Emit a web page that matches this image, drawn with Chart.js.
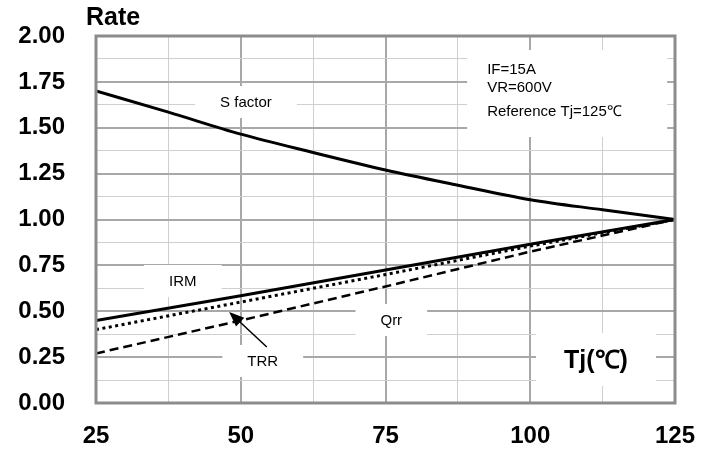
<!DOCTYPE html>
<html>
<head>
<meta charset="utf-8">
<script src="https://cdn.jsdelivr.net/npm/chart.js@4.4.1/dist/chart.umd.min.js"></script>
<style>
  html, body { margin: 0; padding: 0; background: #fff; }
  #wrap { width: 714px; height: 453px; }
</style>
</head>
<body>
<div id="wrap"><canvas id="rateChart" width="714" height="453"></canvas></div>
<script>
// values, rate vs junction temperature
const sTemps = [25, 37.5, 50, 62.5, 75, 87.5, 100, 112.5, 125];
const sFactor = [1.70, 1.585, 1.465, 1.365, 1.27, 1.187, 1.108, 1.053, 1.00];

const lineTemps = [25, 50, 75, 100, 125];
const irm = [0.45, 0.585, 0.725, 0.865, 1.00];
const trr = [0.40, 0.55, 0.70, 0.855, 1.00];
const qrr = [0.27, 0.45, 0.635, 0.825, 1.00];

const xTicks = [25, 50, 75, 100, 125];
const yTicks = [0, 0.25, 0.5, 0.75, 1, 1.25, 1.5, 1.75, 2];

// curve labels (data units)
const noteText = ['S factor', 'IRM', 'Qrr', 'TRR'];
const noteX = [50.9, 40.0, 76.0, 53.8];
const noteY = [1.64, 0.665, 0.452, 0.229];

const infoLines = ['IF=15A', 'VR=600V', 'Reference Tj=125℃'];

const pts = (xs, ys) => xs.map((x, i) => ({ x: x, y: ys[i] }));
const isMajor = (v, step) => Math.abs(v / step - Math.round(v / step)) < 1e-6;

const decorPlugin = {
    id: 'decor',
    beforeDatasetsDraw(chart) {
        const { ctx, chartArea: a, scales: { x, y } } = chart;
        ctx.save();
        // white label boxes hiding the grid
        ctx.font = '15px "Liberation Sans", Arial, sans-serif';
        ctx.textAlign = 'center';
        ctx.textBaseline = 'middle';
        noteText.forEach((t, i) => {
            const px = x.getPixelForValue(noteX[i]);
            const py = y.getPixelForValue(noteY[i]);
            const w = ctx.measureText(t).width + 50;
            ctx.fillStyle = '#fff';
            ctx.fillRect(px - w / 2, py - 16, w, 32);
            ctx.fillStyle = '#000';
            ctx.fillText(t, px, py + 1);
        });

        // condition box
        const bx = x.getPixelForValue(89.1), by = a.top + 14;
        ctx.fillStyle = '#fff';
        ctx.fillRect(bx, by, 200, 87);
        ctx.fillStyle = '#000';
        ctx.textAlign = 'left';
        const lineY = [34, 52, 76];
        infoLines.forEach((t, i) => ctx.fillText(t, bx + 20, a.top + lineY[i]));

        // axis name in the corner
        const tx = x.getPixelForValue(111);
        const ty = y.getPixelForValue(0.234);
        ctx.fillStyle = '#fff';
        ctx.fillRect(tx - 58, ty - 27, 120, 53);
        ctx.fillStyle = '#000';
        ctx.font = 'bold 25px "Liberation Sans", Arial, sans-serif';
        ctx.textAlign = 'center';
        ctx.fillText('Tj(℃)', tx + 2, ty + 1);
        ctx.restore();
    },
    afterDatasetsDraw(chart) {
        const { ctx, chartArea: a, scales: { x, y } } = chart;
        ctx.save();
        // arrow pointing to TRR
        const x0 = x.getPixelForValue(54.5), y0 = y.getPixelForValue(0.305);
        const x1 = x.getPixelForValue(48.0), y1 = y.getPixelForValue(0.496);
        const ang = Math.atan2(y1 - y0, x1 - x0);
        ctx.strokeStyle = '#000';
        ctx.fillStyle = '#000';
        ctx.lineWidth = 1.5;
        ctx.beginPath();
        ctx.moveTo(x0, y0);
        ctx.lineTo(x1 - 10 * Math.cos(ang), y1 - 10 * Math.sin(ang));
        ctx.stroke();
        ctx.beginPath();
        ctx.moveTo(x1, y1);
        ctx.lineTo(x1 - 15 * Math.cos(ang) + 6 * Math.sin(ang), y1 - 15 * Math.sin(ang) - 6 * Math.cos(ang));
        ctx.lineTo(x1 - 15 * Math.cos(ang) - 6 * Math.sin(ang), y1 - 15 * Math.sin(ang) + 6 * Math.cos(ang));
        ctx.closePath();
        ctx.fill();

        // plot frame
        ctx.strokeStyle = '#8c8c8c';
        ctx.lineWidth = 3;
        ctx.strokeRect(a.left, a.top, a.right - a.left, a.bottom - a.top);

        // y axis name
        ctx.font = 'bold 25px "Liberation Sans", Arial, sans-serif';
        ctx.textAlign = 'left';
        ctx.textBaseline = 'middle';
        ctx.fillText('Rate', a.left - 10, a.top - 18);
        ctx.restore();
    }
};

const ctx = document.getElementById('rateChart').getContext('2d');
new Chart(ctx, {
    type: 'line',
    data: {
        datasets: [
            { label: 'S factor', data: pts(sTemps, sFactor), borderColor: '#000', borderWidth: 3, cubicInterpolationMode: 'monotone' },
            { label: 'IRM', data: pts(lineTemps, irm), borderColor: '#000', borderWidth: 3 },
            { label: 'TRR', data: pts(lineTemps, trr), borderColor: '#000', borderWidth: 3, borderDash: [3, 3.5] },
            { label: 'Qrr', data: pts(lineTemps, qrr), borderColor: '#000', borderWidth: 2.5, borderDash: [9, 5] }
        ]
    },
    options: {
        responsive: false,
        animation: false,
        events: [],
        elements: { point: { radius: 0 } },
        layout: { padding: { top: 36, right: 39, left: 0, bottom: 0 } },
        plugins: { legend: { display: false }, tooltip: { enabled: false } },
        scales: {
            x: {
                type: 'linear', min: 25, max: 125,
                afterFit: s => { s.height = 50; s.paddingLeft = 0; s.paddingRight = 0; },
                afterBuildTicks: s => { s.ticks = [25, 37.5, 50, 62.5, 75, 87.5, 100, 112.5, 125].map(v => ({ value: v })); },
                border: { display: false },
                grid: {
                    drawTicks: false,
                    color: c => isMajor(c.tick.value, 25) ? '#a8a8a8' : '#cfcfcf',
                    lineWidth: c => isMajor(c.tick.value, 25) ? 2 : 1
                },
                ticks: {
                    padding: 19,
                    autoSkip: false,
                    maxRotation: 0,
                    minRotation: 0,
                    color: '#000',
                    font: { family: '"Liberation Sans", Arial, sans-serif', size: 24, weight: 'bold' },
                    callback: v => xTicks.includes(v) ? String(v) : ''
                }
            },
            y: {
                min: 0, max: 2,
                afterFit: s => { s.width = 96; s.paddingTop = 0; s.paddingBottom = 0; },
                afterBuildTicks: s => { s.ticks = [0, 0.125, 0.25, 0.375, 0.5, 0.625, 0.75, 0.875, 1, 1.125, 1.25, 1.375, 1.5, 1.625, 1.75, 1.875, 2].map(v => ({ value: v })); },
                border: { display: false },
                grid: {
                    drawTicks: false,
                    color: c => isMajor(c.tick.value, 0.25) ? '#a8a8a8' : '#cfcfcf',
                    lineWidth: c => isMajor(c.tick.value, 0.25) ? 2 : 1
                },
                ticks: {
                    padding: 31,
                    autoSkip: false,
                    color: '#000',
                    font: { family: '"Liberation Sans", Arial, sans-serif', size: 24, weight: 'bold' },
                    callback: v => yTicks.some(t => Math.abs(t - v) < 1e-6) ? v.toFixed(2) : ''
                }
            }
        }
    },
    plugins: [decorPlugin]
});
</script>
</body>
</html>
